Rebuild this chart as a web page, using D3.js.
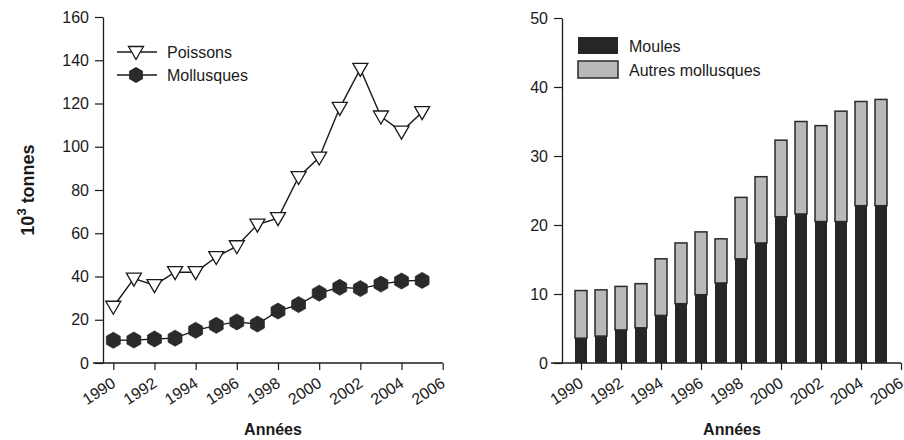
<!DOCTYPE html>
<html><head><meta charset="utf-8">
<script src="https://cdn.jsdelivr.net/npm/d3@7"></script>
<style>
body{margin:0;background:#fff;}
text{font-family:"Liberation Sans",Arial,sans-serif;fill:#1a1a1a;}
</style></head>
<body><svg id="c" width="904" height="440"></svg>
<script>
const years = [1990,1991,1992,1993,1994,1995,1996,1997,1998,1999,2000,2001,2002,2003,2004,2005];
const poissons = [26,39,36,42,42,49,54,64,67,86,95,118,136,114,107,116];
const mollusques = [10.5,10.6,11.1,11.5,15.1,17.4,19.0,18.0,24.0,27.0,32.3,35.0,34.4,36.5,37.9,38.2];
const moules = [3.6,3.9,4.8,5.1,6.9,8.6,9.9,11.6,15.1,17.4,21.2,21.6,20.5,20.5,22.8,22.8];
const autres = mollusques.map((t,i)=>+(t-moules[i]).toFixed(1));
const xTicks = [1990,1992,1994,1996,1998,2000,2002,2004,2006];
const yTicksL = [0,20,40,60,80,100,120,140,160];
const yTicksR = [0,10,20,30,40,50];

const svg = d3.select("#c");
const ink = "#1a1a1a";

function drawAxes(g, x, y, yTicks, x0axis, yAxisX, titleX, dxLab){
  const ya = g.append("g").attr("transform",`translate(${yAxisX},0)`)
    .call(d3.axisLeft(y).tickValues(yTicks).tickSize(8).tickPadding(6).tickSizeOuter(0));
  ya.select(".domain").attr("stroke",ink).attr("stroke-width",1.3);
  ya.selectAll(".tick line").attr("stroke",ink).attr("stroke-width",1.2);
  ya.selectAll(".tick text").style("font-size","16px").attr("fill",ink);
  const xa = g.append("g").attr("transform",`translate(0,${y(0)})`)
    .call(d3.axisBottom(x).tickValues(xTicks).tickFormat(d3.format("d")).tickSize(7).tickSizeOuter(0));
  xa.select(".domain").remove();
  xa.append("line").attr("x1",x0axis).attr("x2",x(2006)).attr("y1",0).attr("y2",0)
    .attr("stroke",ink).attr("stroke-width",1.3);
  xa.selectAll(".tick line").attr("stroke",ink).attr("stroke-width",1.2);
  xa.selectAll(".tick text").style("font-size","16px").attr("fill",ink)
    .attr("text-anchor","end").attr("dy",null).attr("y",null)
    .attr("transform",`translate(${dxLab},23) rotate(-33)`);
  g.append("text").attr("x",titleX).attr("y",435).attr("text-anchor","middle")
    .style("font-size","16px").style("font-weight","bold").text("Années");
}

// ---------- Left chart ----------
const L = svg.append("g");
const xL = d3.scaleLinear().domain([1990,2006]).range([113.3,442.7]);
const yL = d3.scaleLinear().domain([0,160]).range([363,17]);
drawAxes(L, xL, yL, yTicksL, 93, 103, 273, 3);

const yt = L.append("text").attr("transform","translate(34,190) rotate(-90)")
  .attr("text-anchor","middle").style("font-size","18px").style("font-weight","bold");
yt.append("tspan").text("10");
yt.append("tspan").attr("dy",-8).style("font-size","13px").text("3");
yt.append("tspan").attr("dy",8).text(" tonnes");

const line = d3.line().x((d,i)=>xL(years[i])).y(d=>yL(d));
L.append("path").datum(poissons).attr("d",line).attr("fill","none").attr("stroke",ink).attr("stroke-width",1.4);
L.append("path").datum(mollusques).attr("d",line).attr("fill","none").attr("stroke",ink).attr("stroke-width",1.4);

const tri = "M-7.5,-5.5 L7.5,-5.5 L0,7.5 Z";
function hexPath(r){
  const p=[];
  for(let k=0;k<6;k++){const a=Math.PI/6+k*Math.PI/3;p.push([r*Math.cos(a),r*Math.sin(a)]);}
  return "M"+p.map(q=>q.join(",")).join("L")+"Z";
}
const hex = hexPath(8);
L.selectAll(".tri").data(poissons).join("path").attr("class","tri")
  .attr("transform",(d,i)=>`translate(${xL(years[i])},${yL(d)})`)
  .attr("d",tri).attr("fill","#fff").attr("stroke",ink).attr("stroke-width",1.3);
L.selectAll(".hex").data(mollusques).join("path").attr("class","hex")
  .attr("transform",(d,i)=>`translate(${xL(years[i])},${yL(d)})`)
  .attr("d",hex).attr("fill","#2a2a2a").attr("stroke","#2a2a2a").attr("stroke-width",0.8);

const lg = L.append("g");
[["Poissons",52,"tri"],["Mollusques",75,"hex"]].forEach(([t,yy,m])=>{
  lg.append("line").attr("x1",117).attr("x2",157).attr("y1",yy).attr("y2",yy).attr("stroke",ink).attr("stroke-width",1.4);
  if(m==="tri") lg.append("path").attr("d",tri).attr("transform",`translate(136,${yy})`).attr("fill","#fff").attr("stroke",ink).attr("stroke-width",1.3);
  else lg.append("path").attr("d",hex).attr("transform",`translate(136,${yy})`).attr("fill","#2a2a2a");
  lg.append("text").attr("x",167).attr("y",yy+6).style("font-size","16px").text(t);
});

// ---------- Right chart ----------
const R = svg.append("g");
const xR = d3.scaleLinear().domain([1990,2006]).range([581,901]);
const yR = d3.scaleLinear().domain([0,50]).range([363,18]);
drawAxes(R, xR, yR, yTicksR, 551, 562, 732, 3);

const bw = 12;
const stack = d3.stack().keys(["moules","autres"])(years.map((y,i)=>({year:y,moules:moules[i],autres:autres[i]})));
const fills = {moules:"#262626", autres:"#b9b9b9"};
stack.forEach(s=>{
  R.selectAll(".b"+s.key).data(s).join("rect")
    .attr("x",d=>xR(d.data.year)-bw/2).attr("width",bw)
    .attr("y",d=>yR(d[1])).attr("height",d=>yR(d[0])-yR(d[1]))
    .attr("fill",fills[s.key])
    .attr("stroke",s.key==="autres"?"#2a2a2a":"none").attr("stroke-width",1.5);
});

R.append("rect").attr("x",578).attr("y",37).attr("width",40).attr("height",17).attr("fill","#262626");
R.append("rect").attr("x",578).attr("y",61).attr("width",40).attr("height",17).attr("fill","#b9b9b9").attr("stroke","#2a2a2a").attr("stroke-width",1.5);
R.append("text").attr("x",629).attr("y",52).style("font-size","16px").text("Moules");
R.append("text").attr("x",629).attr("y",76).style("font-size","16px").text("Autres mollusques");
</script></body></html>
